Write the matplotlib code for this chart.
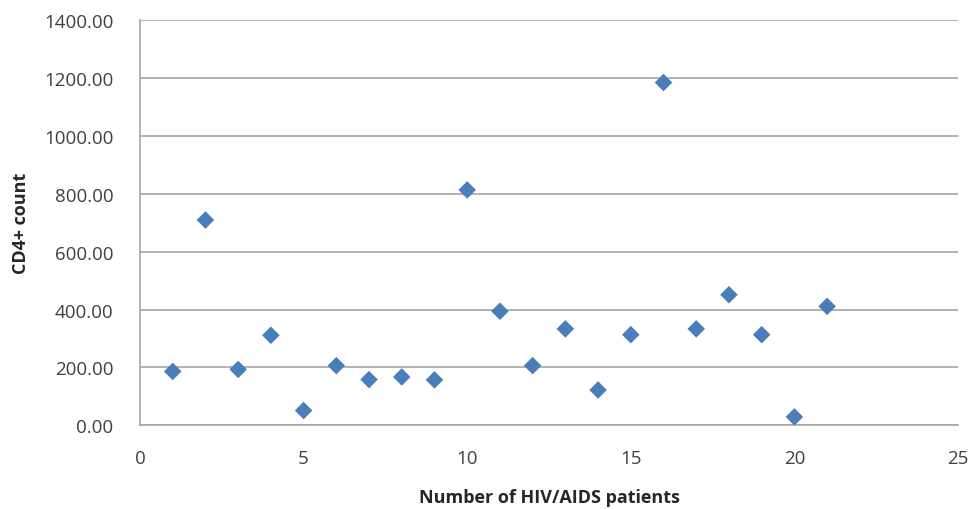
import matplotlib
matplotlib.use("Agg")
import matplotlib.pyplot as plt
from matplotlib.ticker import FormatStrFormatter

patients = list(range(1, 22))
cd4 = [186, 709, 193, 311, 51, 206, 158, 167, 157, 813, 394, 206,
       333, 122, 313, 1184, 333, 451, 313, 29, 411]
x_ticks = [0, 5, 10, 15, 20, 25]
y_ticks = [0, 200, 400, 600, 800, 1000, 1200, 1400]

plt.rcParams['font.family'] = ['Open Sans', 'DejaVu Sans']

fig = plt.figure(figsize=(9.71, 5.10), dpi=100)
ax = fig.add_axes([140/971, (510-426.3)/510, (958-140)/971, (426.3-21)/510])

ax.scatter(patients, cd4, marker='D', s=80, color='#4a7ebb', edgecolors='none', zorder=3)

ax.set_xlim(0, 25)
ax.set_ylim(0, 1400)
ax.set_xticks(x_ticks)
ax.set_yticks(y_ticks)
ax.yaxis.set_major_formatter(FormatStrFormatter('%.2f'))
ax.grid(axis='y', color='#a6a6a6', linewidth=1.2)
ax.set_axisbelow(True)

for s in ['top', 'right']:
    ax.spines[s].set_visible(False)
for s in ['left', 'bottom']:
    ax.spines[s].set_color('#a6a6a6')
    ax.spines[s].set_linewidth(1.2)

ax.tick_params(axis='both', labelsize=13.5, labelcolor='#404040', length=0)
ax.tick_params(axis='y', pad=19)
ax.tick_params(axis='x', pad=17)

ax.set_xlabel('Number of HIV/AIDS patients', fontsize=13, fontweight='bold', labelpad=15, color='#262626')
ax.set_ylabel('CD4+ count', fontsize=13, fontweight='bold', labelpad=10, color='#262626')

fig.savefig('out.png', dpi=100)
